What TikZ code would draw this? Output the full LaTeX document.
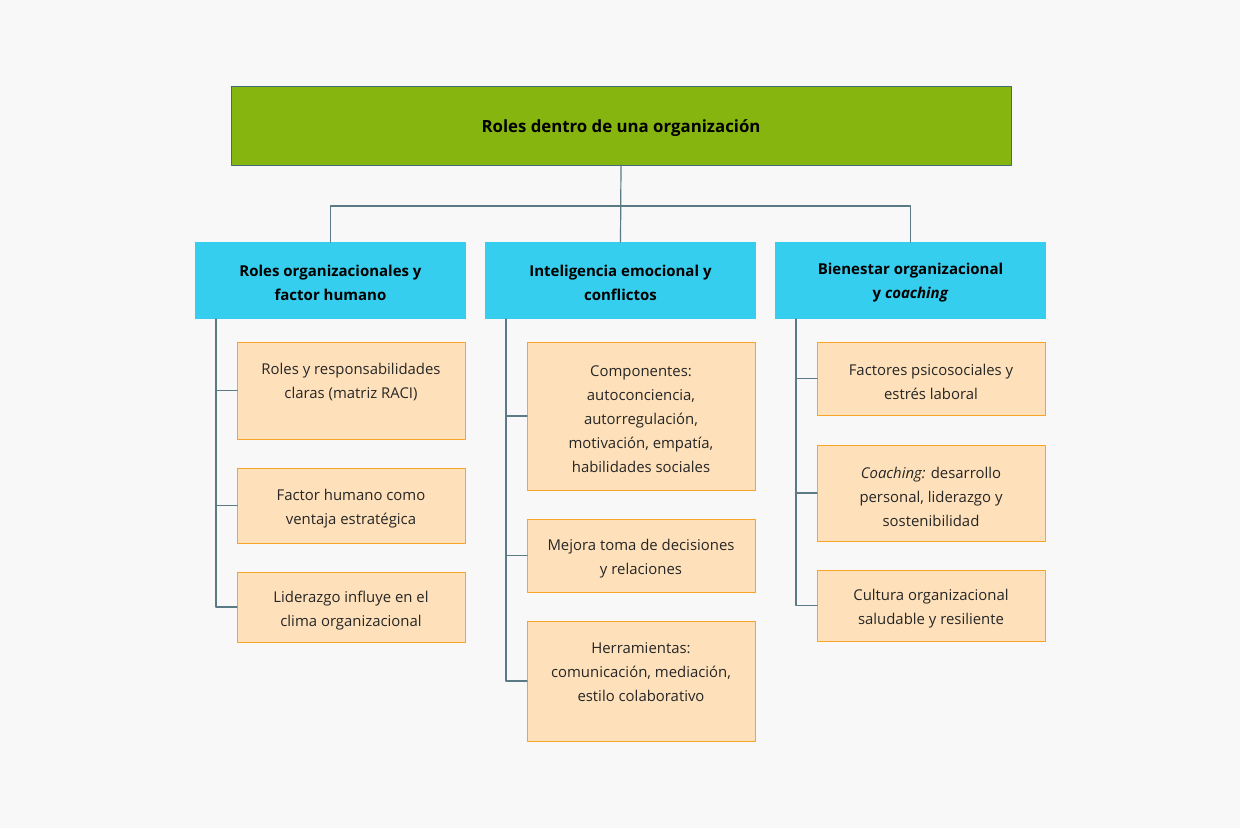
\documentclass[tikz,border=0pt]{standalone}
\usepackage{fontspec}
\setmainfont{Open Sans}
\usepackage{pgf,tikz}
\definecolor{fofofo}{rgb}{0.973,0.973,0.973}
\definecolor{oubzqf}{rgb}{0.525,0.71,0.059}
\definecolor{rfuaia}{rgb}{0.247,0.42,0.478}
\definecolor{ruceee}{rgb}{0.212,0.808,0.933}
\definecolor{feewba}{rgb}{0.996,0.882,0.729}
\definecolor{fiatei}{rgb}{0.969,0.643,0.153}
\definecolor{zaiaou}{rgb}{0.353,0.478,0.525}

\begin{document}
\begin{tikzpicture}[line cap=round,line join=round,x=1pt,y=-1pt,
    conn/.style={line width=1.2pt,color=zaiaou},
    head/.style={fill=ruceee,minimum width=271,minimum height=77,inner sep=0,outer sep=0},
    htxt/.style={align=center,yshift=-2.5,font=\fontsize{15}{24}\selectfont\bfseries},
    leaf/.style={draw=fiatei,line width=0.8pt,fill=feewba,minimum width=228,inner sep=0,outer sep=0},
    ltxt/.style={align=center,yshift=-3.5,text=black!85,font=\fontsize{14.9}{24}\selectfont}]
      \fill[color=fofofo] (0,0) rectangle (1240,828);
      \useasboundingbox (0,0) rectangle (1240,828);
      % root
      \node[draw=rfuaia,line width=0.8pt,fill=oubzqf,minimum width=780,minimum height=79,inner sep=0,outer sep=0,
        label={[yshift=-3,font=\fontsize{16.8}{24}\selectfont\bfseries]center:Roles dentro de una organización}] (root) at (621,125.5) {};
      \coordinate (bus) at (621,206);
      % headers
      \node[head,label={[htxt]center:{Roles organizacionales y\\ factor humano}}] (h1) at (330.5,280.5) {};
      \node[head,label={[htxt]center:{Inteligencia emocional y\\ conflictos}}] (h2) at (620.5,280.5) {};
      \node[head,label={[htxt]center:{Bienestar organizacional\\ y \textit{coaching}}}] (h3) at (910.5,280.5) {};
      % leaves
      \node[leaf,minimum height=97,label={[ltxt,yshift=12]center:{Roles y responsabilidades\\ claras (matriz RACI)}}] (c1a) at (351,390.5) {};
      \node[leaf,minimum height=75,label={[ltxt]center:{Factor humano como\\ ventaja estratégica}}] (c1b) at (351,505.5) {};
      \node[leaf,minimum height=70,label={[ltxt]center:{Liderazgo influye en el\\ clima organizacional}}] (c1c) at (351,607) {};
      \node[leaf,minimum height=148,label={[ltxt]center:{Componentes:\\ autoconciencia,\\ autorregulación,\\ motivación, empatía,\\ habilidades sociales}}] (c2a) at (641,416) {};
      \node[leaf,minimum height=73,label={[ltxt]center:{Mejora toma de decisiones\\ y relaciones}}] (c2b) at (641,555.5) {};
      \node[leaf,minimum height=120,label={[ltxt,yshift=12.5]center:{Herramientas:\\ comunicación, mediación,\\ estilo colaborativo}}] (c2c) at (641,681) {};
      \node[leaf,minimum height=73,label={[ltxt]center:{Factores psicosociales y\\ estrés laboral}}] (c3a) at (931,378.5) {};
      \node[leaf,minimum height=96,label={[ltxt]center:{\textit{Coaching:} desarrollo\\ personal, liderazgo y\\ sostenibilidad}}] (c3b) at (931,493) {};
      \node[leaf,minimum height=71,label={[ltxt]center:{Cultura organizacional\\ saludable y resiliente}}] (c3c) at (931,605.5) {};
      % connectors
      \draw[conn] (root.south) -- (h2.north);
      \draw[conn] (h1.north) -- (h1.north |- bus) -- (h3.north |- bus) -- (h3.north);
      \foreach \h/\a/\b/\c in {h1/c1a/c1b/c1c,h2/c2a/c2b/c2c,h3/c3a/c3b/c3c}
      {
      \draw[conn] ([xshift=21]\h.south west) |- (\c.west);
      \draw[conn] ([xshift=-21]\a.west) -- (\a.west);
      \draw[conn] ([xshift=-21]\b.west) -- (\b.west);
      }
\end{tikzpicture}
\end{document}
